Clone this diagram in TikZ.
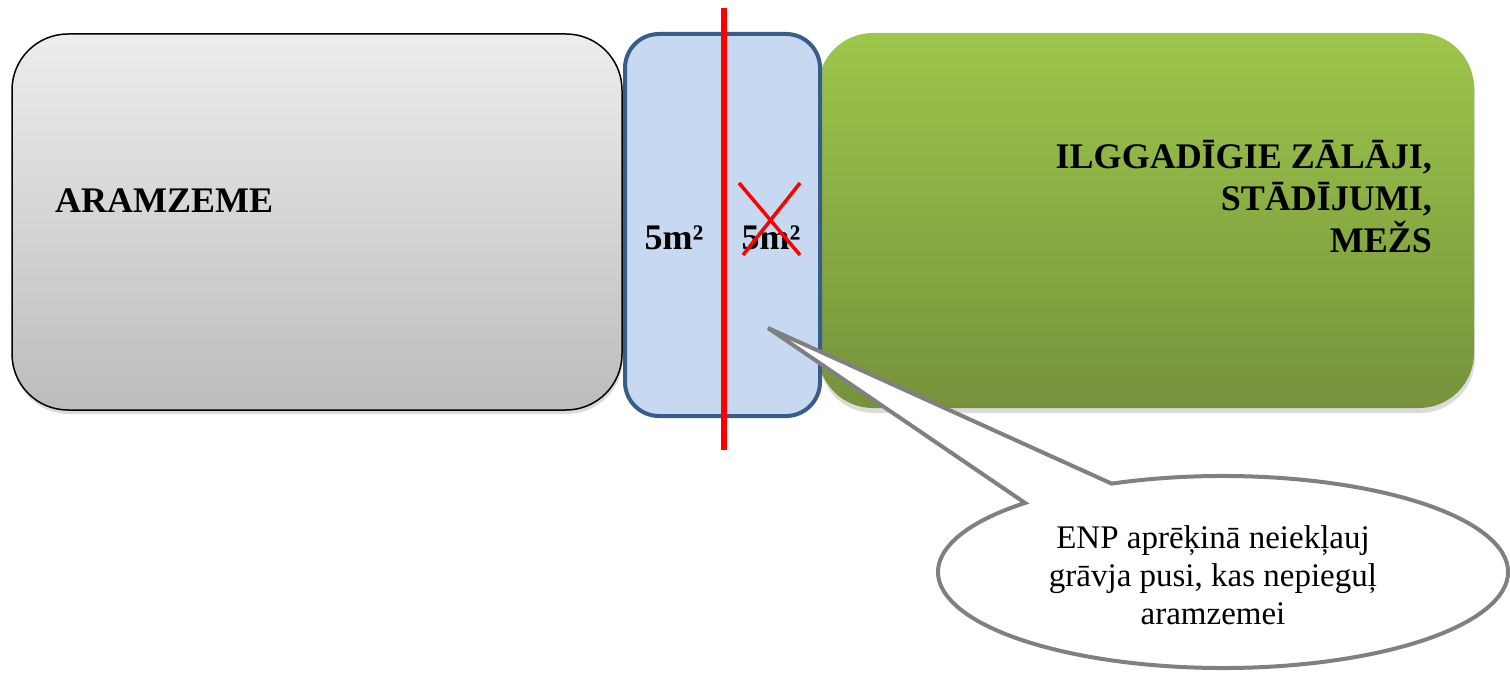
\documentclass[tikz,border=0pt]{standalone}
\usepackage{fontspec}
\setmainfont{Liberation Serif}
\usetikzlibrary{shadows}
\definecolor{grayTop}{HTML}{EDEDED}
\definecolor{grayBot}{HTML}{BCBCBC}
\definecolor{greenTop}{HTML}{9DC64B}
\definecolor{greenBot}{HTML}{76923B}
\definecolor{blueFill}{HTML}{C6D9F1}
\definecolor{blueLine}{HTML}{385D8A}
\definecolor{calloutLine}{HTML}{808080}
\begin{document}
\begin{tikzpicture}[x=1pt,y=1pt,
  areabox/.style={rectangle, inner sep=0pt, outer sep=0pt},
  graybox/.style={areabox, rounded corners=56pt, minimum width=610pt, minimum height=376pt,
    draw=black, line width=1.5pt, top color=grayTop, bottom color=grayBot,
    drop shadow={shadow xshift=1pt, shadow yshift=-4pt, fill=black!40, opacity=0.35}},
  greenbox/.style={areabox, rounded corners=55pt, minimum width=656pt, minimum height=375pt,
    top color=greenTop, bottom color=greenBot,
    drop shadow={shadow xshift=1pt, shadow yshift=-5pt, fill=black!40, opacity=0.35}},
  bluebox/.style={areabox, rounded corners=34pt, minimum width=195pt, minimum height=382pt,
    draw=blueLine, line width=4pt, fill=blueFill},
  bigtext/.style={font=\fontsize{36}{42}\selectfont\bfseries, inner sep=0pt},
  redline/.style={draw=red, line width=6pt},
  crossline/.style={draw=red, line width=3.5pt},
  callout/.style={draw=calloutLine, line width=4pt, fill=white, line join=miter},
  calltext/.style={font=\fontsize{33}{38}\selectfont, align=center, inner sep=0pt}
]
\useasboundingbox (0,0) rectangle (1510,673);

% land areas
\node[graybox] (arable) at (317,451) {};
\node[greenbox] (grass) at (1146,452.5) {};
\node[bluebox] (ditch) at (722.5,448) {};

% texts
\node[bigtext, anchor=base west] (aramtxt) at (55,460) {ARAMZEME};
\node[bigtext, anchor=base east, align=right] (grasstxt) at (1432,420)
  {ILGGADĪGIE ZĀLĀJI,\\STĀDĪJUMI,\\MEŽS};
\node[bigtext, anchor=base] (leftsq) at (674,423) {5m²};
\node[bigtext, anchor=base] (rightsq) at (771,423) {5m²};

% red dividing line
\coordinate (rtop) at (724,665);
\coordinate (rbot) at (724,223);
\draw[redline] (rtop) -- (rbot);

% cross over the right half
\coordinate (xa) at (739,490);
\coordinate (xb) at (800,418);
\coordinate (xc) at (800,490);
\coordinate (xd) at (743,418);
\draw[crossline] (xa) -- (xb);
\draw[crossline] (xc) -- (xd);

% callout
\coordinate (tip) at (768,345);
\coordinate (cc) at (1223,101);
\draw[callout] (cc) ++(113:285 and 96)
  arc[start angle=113, end angle=-226, x radius=285, y radius=96]
  -- (tip) -- cycle;
\node[calltext] (note) at (1213,98)
  {ENP aprēķinā neiekļauj\\grāvja pusi, kas nepieguļ\\aramzemei};
\end{tikzpicture}
\end{document}
